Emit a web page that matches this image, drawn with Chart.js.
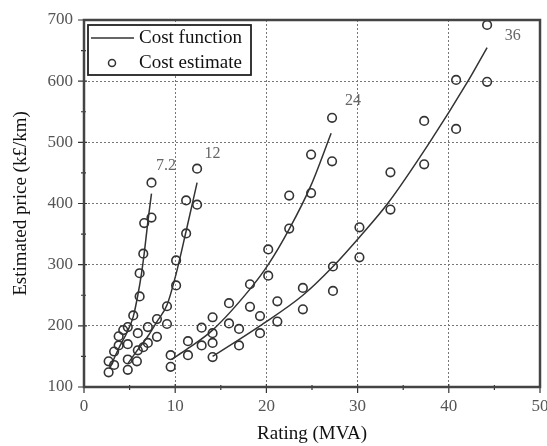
<!DOCTYPE html>
<html lang="en">
<head>
    <meta charset="UTF-8">
    <title>Estimated price vs rating</title>
    <script src="https://cdn.jsdelivr.net/npm/chart.js"></script>
    <style>
        html, body { margin: 0; padding: 0; background: #fff; }
        #wrap { width: 547px; height: 446px; }
    </style>
</head>
<body>
    <div id="wrap"><canvas id="costChart" width="547" height="446"></canvas></div>

    <script>
        // cost estimates (circles), per voltage level
        var rating72 = [2.7, 2.7, 3.3, 3.3, 3.8, 3.8, 4.3, 4.8, 5.4, 5.9, 6.1, 6.1, 6.5, 6.6, 7.4, 7.4];
        var price72  = [124, 142, 136, 158, 168, 183, 193, 198, 217, 188, 248, 286, 318, 368, 377, 434];

        var rating12 = [4.8, 4.8, 4.8, 5.8, 5.9, 6.5, 7.0, 7.0, 8.0, 8.0, 9.1, 9.1, 10.1, 10.1, 11.2, 11.2, 12.4, 12.4];
        var price12  = [128, 145, 170, 142, 160, 165, 172, 198, 182, 211, 203, 232, 266, 307, 351, 405, 398, 457];

        var rating24 = [9.5, 9.5, 11.4, 11.4, 12.9, 12.9, 14.1, 14.1, 15.9, 15.9, 18.2, 18.2, 20.2, 20.2, 22.5, 22.5, 24.9, 24.9, 27.2, 27.2];
        var price24  = [152, 133, 175, 152, 197, 168, 214, 188, 237, 204, 268, 231, 325, 282, 413, 359, 480, 417, 540, 469];

        var rating36 = [14.1, 14.1, 17.0, 17.0, 19.3, 19.3, 21.2, 21.2, 24.0, 24.0, 27.3, 27.3, 30.2, 30.2, 33.6, 33.6, 37.3, 37.3, 40.8, 40.8, 44.2, 44.2];
        var price36  = [172, 149, 195, 168, 216, 188, 240, 207, 262, 227, 297, 257, 361, 312, 451, 390, 535, 464, 602, 522, 692, 599];

        // cost functions (solid curves)
        var fnRating72 = [2.8, 3.8, 4.8, 5.4, 5.9, 6.3, 6.6, 7.0, 7.4];
        var fnPrice72  = [130, 163, 192, 215, 250, 285, 318, 370, 416];

        var fnRating12 = [4.8, 5.7, 7.0, 8.0, 9.1, 10.1, 11.2, 12.4];
        var fnPrice12  = [138, 157, 183, 207, 234, 285, 355, 434];

        var fnRating24 = [9.6, 11.4, 14.1, 18.2, 20.2, 22.5, 24.9, 27.1];
        var fnPrice24  = [145, 163, 193, 260, 300, 358, 430, 515];

        var fnRating36 = [14.1, 19.3, 24.0, 27.3, 30.2, 33.3, 37.9, 42.1, 44.2];
        var fnPrice36  = [150, 200, 250, 297, 345, 400, 500, 600, 655];

        // voltage labels next to the curves
        var voltageLabels = ['7.2', '12', '24', '36'];
        var labelRating   = [9.0, 14.1, 29.5, 47.0];
        var labelPrice    = [461, 482, 568, 674];

        var SERIF = "'Liberation Serif', 'Times New Roman', serif";
        var INK = '#333';

        function pts(xs, ys) {
            return xs.map(function (x, i) { return { x: x, y: ys[i] }; });
        }

        function curve(xs, ys) {
            return {
                label: 'Cost function',
                data: pts(xs, ys),
                showLine: true,
                borderColor: INK,
                borderWidth: 1.5,
                pointRadius: 0,
                cubicInterpolationMode: 'monotone',
                fill: false
            };
        }

        function estimate(xs, ys) {
            return {
                label: 'Cost estimate',
                data: pts(xs, ys),
                showLine: false,
                borderColor: INK,
                backgroundColor: 'rgba(0,0,0,0)',
                borderWidth: 1.6,
                pointRadius: 4.3,
                pointStyle: 'circle'
            };
        }

        // frame, tick marks, boxed legend and voltage labels
        var decorations = {
            id: 'decorations',
            afterDraw: function (chart) {
                var ctx = chart.ctx;
                var a = chart.chartArea;
                var xs = chart.scales.x, ys = chart.scales.y;
                ctx.save();
                ctx.strokeStyle = INK;

                // tick marks (major + minor)
                ctx.lineWidth = 1.2;
                ctx.beginPath();
                for (var v = 0; v <= 50; v += 5) {
                    var px = xs.getPixelForValue(v);
                    var major = v % 10 === 0;
                    ctx.moveTo(px, a.bottom - (major ? 3 : 2));
                    ctx.lineTo(px, a.bottom + (major ? 6 : 3));
                }
                for (var w = 100; w <= 700; w += 50) {
                    var py = ys.getPixelForValue(w);
                    var maj = w % 100 === 0;
                    ctx.moveTo(a.left - (maj ? 6 : 3), py);
                    ctx.lineTo(a.left + (maj ? 3 : 2), py);
                }
                ctx.stroke();

                // plot frame
                ctx.lineWidth = 2.5;
                ctx.strokeStyle = '#444';
                ctx.strokeRect(a.left, a.top, a.right - a.left, a.bottom - a.top);

                // legend box
                var lx = a.left + 4, ly = a.top + 5;
                ctx.fillStyle = '#fff';
                ctx.fillRect(lx, ly, 163, 50);
                ctx.lineWidth = 1.8;
                ctx.strokeStyle = '#222';
                ctx.strokeRect(lx, ly, 163, 50);

                ctx.lineWidth = 1.5;
                ctx.strokeStyle = INK;
                ctx.beginPath();
                ctx.moveTo(lx + 3, ly + 13);
                ctx.lineTo(lx + 46, ly + 13);
                ctx.stroke();
                ctx.beginPath();
                ctx.arc(lx + 24, ly + 38, 3.5, 0, Math.PI * 2);
                ctx.stroke();

                ctx.fillStyle = '#111';
                ctx.font = '19px ' + SERIF;
                ctx.textAlign = 'left';
                ctx.textBaseline = 'middle';
                ctx.fillText('Cost function', lx + 51, ly + 13);
                ctx.fillText('Cost estimate', lx + 51, ly + 38);

                // voltage labels
                ctx.fillStyle = '#666';
                ctx.font = '16px ' + SERIF;
                ctx.textAlign = 'center';
                voltageLabels.forEach(function (t, i) {
                    ctx.fillText(t, xs.getPixelForValue(labelRating[i]), ys.getPixelForValue(labelPrice[i]));
                });
                ctx.restore();
            }
        };

        var ctx = document.getElementById('costChart').getContext('2d');
        var myChart = new Chart(ctx, {
            type: 'scatter',
            data: {
                datasets: [
                    curve(fnRating72, fnPrice72),
                    curve(fnRating12, fnPrice12),
                    curve(fnRating24, fnPrice24),
                    curve(fnRating36, fnPrice36),
                    estimate(rating72, price72),
                    estimate(rating12, price12),
                    estimate(rating24, price24),
                    estimate(rating36, price36)
                ]
            },
            options: {
                responsive: false,
                animation: false,
                layout: { padding: { top: 20, right: 7, bottom: 0, left: 0 } },
                plugins: {
                    legend: { display: false },
                    tooltip: { enabled: false }
                },
                scales: {
                    x: {
                        type: 'linear',
                        min: 0,
                        max: 50,
                        afterFit: function (s) {
                            s.height = 59;
                            s.paddingLeft = 0;
                            s.paddingRight = 0;
                        },
                        ticks: {
                            stepSize: 10,
                            padding: 9,
                            color: '#555',
                            font: { family: SERIF, size: 17 }
                        },
                        grid: { color: '#777', lineWidth: 1, drawTicks: false },
                        border: { display: false, dash: [2, 2] },
                        title: {
                            display: true,
                            text: 'Rating (MVA)',
                            color: '#111',
                            font: { family: SERIF, size: 19 },
                            padding: { top: 0, bottom: 1 }
                        }
                    },
                    y: {
                        type: 'linear',
                        min: 100,
                        max: 700,
                        afterFit: function (s) {
                            s.width = 84;
                            s.paddingTop = 0;
                            s.paddingBottom = 0;
                        },
                        ticks: {
                            stepSize: 100,
                            padding: 11,
                            color: '#555',
                            font: { family: SERIF, size: 17 }
                        },
                        grid: { color: '#777', lineWidth: 1, drawTicks: false },
                        border: { display: false, dash: [2, 2] },
                        title: {
                            display: true,
                            text: 'Estimated price (k£/km)',
                            color: '#111',
                            font: { family: SERIF, size: 19 },
                            padding: { top: 10, bottom: 0 }
                        }
                    }
                }
            },
            plugins: [decorations]
        });
    </script>
</body>
</html>
